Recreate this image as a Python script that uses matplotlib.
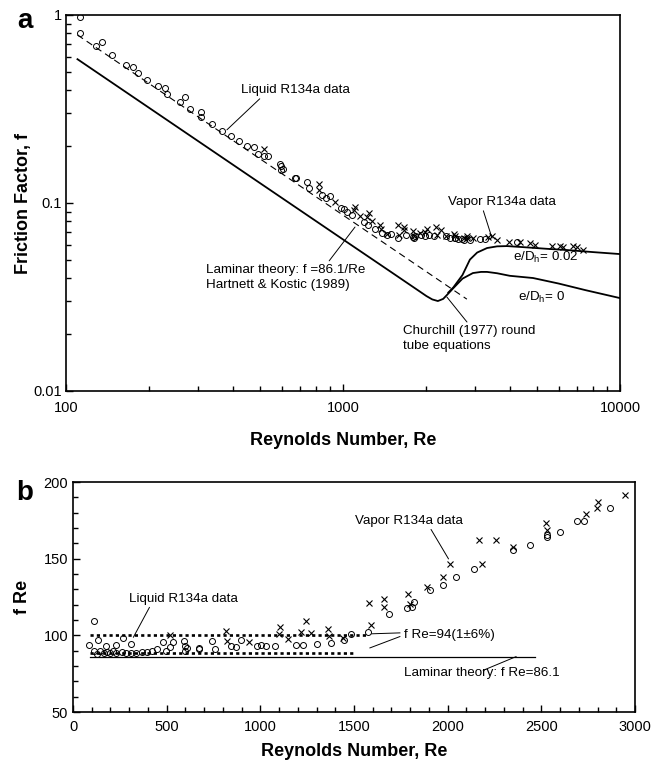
import numpy as np
import matplotlib
matplotlib.use('Agg')
import matplotlib.pyplot as plt
from matplotlib.ticker import FixedLocator, NullFormatter, MultipleLocator

plt.rcParams['font.family'] = ['Liberation Sans', 'DejaVu Sans']
plt.rcParams['mathtext.fontset'] = 'custom'
plt.rcParams['mathtext.rm'] = 'Liberation Sans'

# ---- data ----
# f*Re vs Re (panel b); panel a uses f = fRe/Re for the same points
liquid_re = [83, 112, 112, 128, 135, 146, 164, 175, 182, 196, 214, 227, 232,
             259, 268, 281, 308, 308, 337, 367, 394, 421, 450, 479, 495, 517, 535,
             592, 596, 598, 607, 670, 675, 742, 756, 841, 870, 895, 983, 1005, 1032,
             1080, 1188, 1226, 1305, 1379, 1444, 1485, 1575, 1687, 1784, 1807, 1822,
             1906, 1977, 2045, 2139, 2347, 2439, 2528, 2528, 2599, 2693, 2728, 2867]
liquid_fre = [93.4, 109.6, 89.5, 87.9, 96.7, 89.5, 88.4, 92.8, 89.3, 88.4, 89.5, 93.4, 88.6,
              89.0, 98.2, 88.6, 94.3, 88.8, 88.8, 89.0, 89.3, 89.9, 91.0, 95.4, 89.9, 92.1, 95.6,
              96.0, 93.2, 90.1, 91.7, 91.0, 91.5, 96.3, 91.4, 93.2, 92.3, 97.1, 92.8, 93.9, 92.8,
              92.8, 93.6, 93.6, 94.5, 95.0, 97.1, 101.1, 102.2, 114.0, 118.0, 118.2, 122.0,
              129.4, 132.6, 138.0, 143.2, 155.8, 158.7, 165.6, 164.1, 167.1, 174.3, 174.3, 183.0]

vapor_re = [517, 817, 821, 938, 1098, 1107, 1150, 1219, 1244, 1271, 1361, 1368, 1440,
            1582, 1593, 1658, 1658, 1789, 1800, 1890, 1973, 2013, 2169, 2183, 2258,
            2347, 2524, 2528, 2737, 2796, 2803, 2947]
vapor_fre = [100.0, 103.0, 96.0, 95.4, 100.9, 105.3, 97.8, 102.2, 109.4, 101.5, 104.4, 99.3, 98.2,
             121.0, 107.0, 123.5, 118.6, 126.8, 120.2, 131.2, 138.0, 146.7, 161.9, 146.7, 161.9,
             157.6, 173.2, 168.9, 179.3, 183.0, 186.7, 191.3]

# points beyond Re = 3000, only visible in panel a (Re, f)
liquid_hi_re = [3124, 3259, 4233]
liquid_hi_f = [0.0641, 0.0642, 0.0617]
vapor_hi_re = [3350, 3443, 3590, 3985, 4351, 4731, 4931, 5665, 6066, 6235, 6776, 6976, 7370]
vapor_hi_f = [0.0657, 0.0670, 0.0636, 0.0623, 0.0623, 0.0612, 0.0601, 0.0587, 0.0592,
              0.0583, 0.0592, 0.0583, 0.0562]

# laminar f = 86.1/Re line (dashed, panel a)
hk_re = [110, 2800]
hk_f = [0.783, 0.0308]

# Churchill (1977) curves
smooth_re = [110, 500, 1000, 1500, 1900, 2000, 2100, 2200, 2300, 2400, 2500, 2700,
             2944, 3150, 3311, 3600, 4000, 4853, 6000, 7500, 10000]
smooth_f = [0.582, 0.128, 0.064, 0.0427, 0.0337, 0.0320, 0.0307, 0.0301, 0.0309, 0.0330,
            0.0352, 0.0396, 0.0424, 0.0430, 0.0430, 0.0423, 0.0410, 0.0399, 0.0373, 0.0344, 0.0312]
rough_re = [2400, 2500, 2700, 2872, 3050, 3311, 3600, 3909, 4500, 5500, 6440, 8000, 10000]
rough_f = [0.0334, 0.0355, 0.0414, 0.0500, 0.0545, 0.0576, 0.0588, 0.0590, 0.0582, 0.0570,
           0.0562, 0.0548, 0.0535]

# panel b reference lines
lam_fre = 86.1
lam_re = [90, 2464]
band_hi, band_lo = 100.0, 88.4
band_hi_re = [90, 1565]
band_lo_re = [90, 1500]

fig = plt.figure(figsize=(6.56, 7.65), dpi=100)
fs = 9.6
line_kw = dict(arrowstyle='-', lw=0.7, color='black', shrinkA=0, shrinkB=0)

# ---------------- panel a ----------------
ax = fig.add_axes([66/656, 1-391/765, 554/656, 376/765])
ax.set_xscale('log')
ax.set_yscale('log')
ax.set_xlim(100, 10000)
ax.set_ylim(0.01, 1)

liq_re_a = np.array(liquid_re + liquid_hi_re, dtype=float)
liq_f_a = np.concatenate([np.array(liquid_fre) / np.array(liquid_re), liquid_hi_f])
vap_re_a = np.array(vapor_re + vapor_hi_re, dtype=float)
vap_f_a = np.concatenate([np.array(vapor_fre) / np.array(vapor_re), vapor_hi_f])

ax.plot(hk_re, hk_f, color='black', lw=0.8, ls=(0, (6, 4)))
ax.plot(smooth_re, smooth_f, color='black', lw=1.3)
ax.plot(rough_re, rough_f, color='black', lw=1.3)
ax.plot(liq_re_a, liq_f_a, 'o', ms=4.3, mfc='none', mec='black', mew=0.7)
ax.plot(vap_re_a, vap_f_a, 'x', ms=5, color='black', mew=0.8)

ax.xaxis.set_major_locator(FixedLocator([100, 1000, 10000]))
ax.yaxis.set_major_locator(FixedLocator([0.01, 0.1, 1]))
ax.set_xticklabels(['100', '1000', '10000'])
ax.set_yticklabels(['0.01', '0.1', '1'])
ax.xaxis.set_minor_locator(FixedLocator([k * 10**e for e in (2, 3) for k in range(2, 10)]))
ax.yaxis.set_minor_locator(FixedLocator([k * 10.0**e for e in (-2, -1) for k in range(2, 10)]))
ax.xaxis.set_minor_formatter(NullFormatter())
ax.yaxis.set_minor_formatter(NullFormatter())
ax.tick_params(which='both', direction='in', top=False, right=False, labelsize=10.5, width=1.0)
ax.tick_params(which='major', length=5)
ax.tick_params(which='minor', length=3.5)
ax.tick_params(axis='x', pad=7.5)
ax.tick_params(axis='y', pad=3)
for s in ax.spines.values():
    s.set_linewidth(1.2)

ax.set_xlabel('Reynolds Number, Re', fontsize=13, fontweight='bold')
ax.xaxis.set_label_coords(0.5, -0.109)
ax.set_ylabel('Friction Factor, f', fontsize=13, fontweight='bold')
ax.yaxis.set_label_coords(-0.061, 0.5)

ax.annotate('Liquid R134a data', xy=(381, 0.245), xytext=(428, 0.399), fontsize=fs,
            ha='left', va='center', arrowprops=dict(relpos=(0.2, 0.0), **line_kw))
ax.annotate('Laminar theory: f =86.1/Re\nHartnett & Kostic (1989)', xy=(1105, 0.0745),
            xytext=(320, 0.0402), fontsize=fs, ha='left', va='center', linespacing=1.4,
            arrowprops=dict(relpos=(0.76, 1.0), **line_kw))
ax.annotate('Churchill (1977) round\ntube equations', xy=(2372, 0.0316),
            xytext=(1647, 0.0190), fontsize=fs, ha='left', va='center', linespacing=1.4,
            arrowprops=dict(relpos=(0.5, 1.0), **line_kw))
ax.annotate('Vapor R134a data', xy=(3451, 0.0651), xytext=(2393, 0.1012), fontsize=fs,
            ha='left', va='center', arrowprops=dict(relpos=(0.32, 0.0), **line_kw))
ax.text(4111, 0.0516, r'e/D$_\mathregular{h}$= 0.02', fontsize=fs, ha='left', va='center')
ax.text(4285, 0.0316, r'e/D$_\mathregular{h}$= 0', fontsize=fs, ha='left', va='center')

fig.text(25/656, 1-21/765, 'a', fontsize=20, fontweight='bold', ha='center', va='center')

# ---------------- panel b ----------------
bx = fig.add_axes([73/656, 1-712/765, 562/656, 230/765])
bx.set_xlim(0, 3000)
bx.set_ylim(50, 200)

bx.plot(band_hi_re, [band_hi, band_hi], color='black', lw=1.9, ls=(0, (1.2, 1.2)))
bx.plot(band_lo_re, [band_lo, band_lo], color='black', lw=1.9, ls=(0, (1.2, 1.2)))
bx.plot(lam_re, [lam_fre, lam_fre], color='black', lw=0.9)
bx.plot(liquid_re, liquid_fre, 'o', ms=4.3, mfc='none', mec='black', mew=0.7)
bx.plot(vapor_re, vapor_fre, 'x', ms=5, color='black', mew=0.8)

bx.xaxis.set_major_locator(MultipleLocator(500))
bx.xaxis.set_minor_locator(MultipleLocator(100))
bx.yaxis.set_major_locator(MultipleLocator(50))
bx.yaxis.set_minor_locator(MultipleLocator(10))
bx.tick_params(which='both', direction='in', top=False, right=False, labelsize=10.5, width=1.0)
bx.tick_params(which='major', length=5)
bx.tick_params(which='minor', length=3.5)
bx.tick_params(axis='x', pad=6)
bx.tick_params(axis='y', pad=3.5)
for s in bx.spines.values():
    s.set_linewidth(1.2)

bx.set_xlabel('Reynolds Number, Re', fontsize=13, fontweight='bold')
bx.xaxis.set_label_coords(0.5, -0.135)
bx.set_ylabel('f Re', fontsize=13, fontweight='bold')
bx.yaxis.set_label_coords(-0.075, 0.5)

bx.annotate('Liquid R134a data', xy=(308, 95.5), xytext=(300, 124), fontsize=fs,
            ha='left', va='center',
            arrowprops=dict(arrowstyle='-', lw=0.7, color='black', shrinkA=0, shrinkB=4,
                            relpos=(0.2, 0.0)))
bx.annotate('Vapor R134a data', xy=(2016, 147.5), xytext=(1505, 174.8), fontsize=fs,
            ha='left', va='center',
            arrowprops=dict(arrowstyle='-', lw=0.7, color='black', shrinkA=0, shrinkB=3,
                            relpos=(0.69, 0.0)))
bx.text(1765, 100.4, 'f Re=94(1±6%)', fontsize=fs, ha='left', va='center')
bx.plot([1595, 1745], [101.0, 101.6], color='black', lw=0.7)
bx.plot([1585, 1745], [91.8, 99.2], color='black', lw=0.7)
bx.text(1765, 75.2, 'Laminar theory: f Re=86.1', fontsize=fs, ha='left', va='center')
bx.plot([2190, 2365], [77.2, 86.1], color='black', lw=0.7)

fig.text(25/656, 1-493/765, 'b', fontsize=20, fontweight='bold', ha='center', va='center')

fig.savefig('out.png', dpi=100)
